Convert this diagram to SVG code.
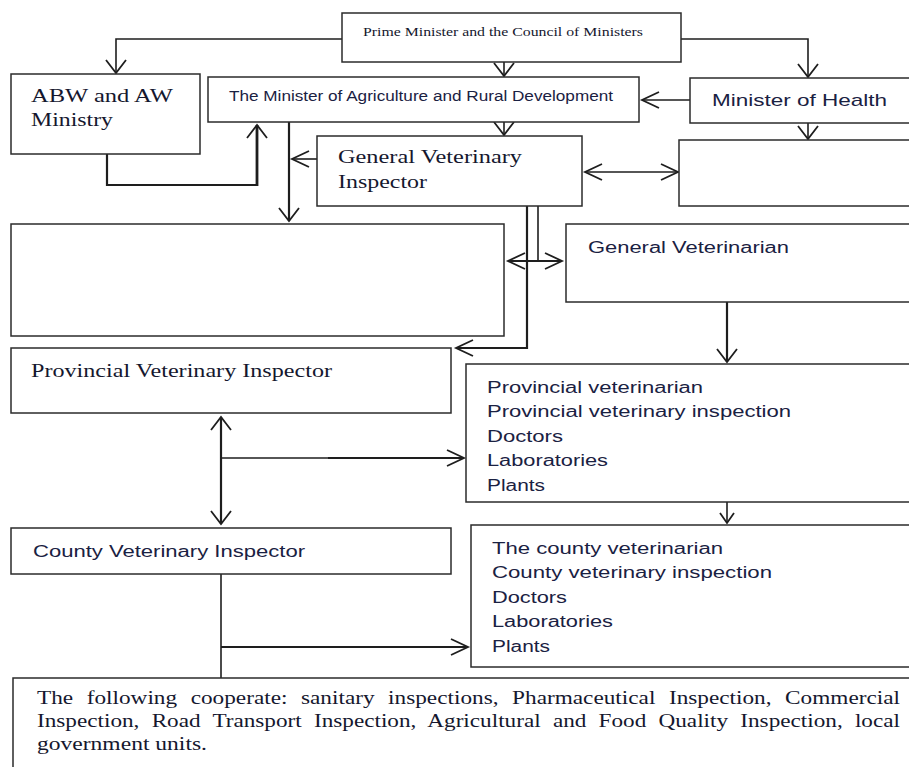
<svg xmlns="http://www.w3.org/2000/svg" width="909" height="767" viewBox="0 0 909 767">
<defs>
<style>
.box{fill:#fff;stroke:#2b2b2b;stroke-width:1.5}
.c{fill:none;stroke:#1e1e1e;stroke-width:1.6}
.t2{stroke-width:2.2}
.t3{stroke-width:2.8}
.serif{font-family:"Liberation Serif","Times New Roman",serif;fill:#15172e}
.sans{font-family:"Liberation Sans",Arial,sans-serif;fill:#1a2142}
</style>
<marker id="a" markerUnits="userSpaceOnUse" orient="auto-start-reverse" overflow="visible" markerWidth="1" markerHeight="1" refX="0" refY="0">
<path d="M-13,-10 L0,0 L-13,10" fill="none" stroke="#1e1e1e" stroke-width="1.8"/>
</marker>
<marker id="b" markerUnits="userSpaceOnUse" orient="auto-start-reverse" overflow="visible" markerWidth="1" markerHeight="1" refX="0" refY="0">
<path d="M-17,-8 L0,0 L-17,8" fill="none" stroke="#1e1e1e" stroke-width="1.8"/>
</marker>
<marker id="s" markerUnits="userSpaceOnUse" orient="auto-start-reverse" overflow="visible" markerWidth="1" markerHeight="1" refX="0" refY="0">
<path d="M-10,-7 L0,0 L-10,7" fill="none" stroke="#1e1e1e" stroke-width="1.8"/>
</marker>
</defs>
<rect width="909" height="767" fill="#fff"/>

<g id="connectors">
<polyline class="c" points="342,39 116,39 116,73" marker-end="url(#a)"/>
<polyline class="c" points="681,39 808,39 808,77" marker-end="url(#a)"/>
<line class="c" x1="504" y1="62" x2="504" y2="76" marker-end="url(#a)"/>
<line class="c" x1="690" y1="100" x2="642" y2="100" marker-end="url(#b)"/>
<line class="c" x1="504" y1="122" x2="504" y2="135" marker-end="url(#a)"/>
<line class="c" x1="808" y1="123" x2="808" y2="139" marker-end="url(#a)"/>
<polyline class="c t2" points="107,154 107,185 257,185"/>
<line class="c t3" x1="257" y1="186" x2="257" y2="125" marker-end="url(#a)"/>
<line class="c t2" x1="289" y1="122" x2="289" y2="221" marker-end="url(#a)"/>
<line class="c" x1="317" y1="159" x2="292" y2="159" marker-end="url(#b)"/>
<line class="c" x1="585" y1="172" x2="678" y2="172" marker-start="url(#b)" marker-end="url(#b)"/>
<polyline class="c t2" points="527,206 527,348 456,348" marker-end="url(#b)"/>
<line class="c" x1="538" y1="206" x2="538" y2="261"/>
<line class="c t2" x1="508" y1="261" x2="562" y2="261" marker-start="url(#b)" marker-end="url(#b)"/>
<line class="c t2" x1="727" y1="302" x2="727" y2="362" marker-end="url(#a)"/>
<line class="c t2" x1="221" y1="417" x2="221" y2="524" marker-start="url(#a)" marker-end="url(#a)"/>
<line class="c" x1="221" y1="458" x2="330" y2="458"/>
<line class="c t2" x1="328" y1="458" x2="464" y2="458" marker-end="url(#b)"/>
<line class="c" x1="727" y1="502" x2="727" y2="523" marker-end="url(#s)"/>
<line class="c" x1="221" y1="574" x2="221" y2="678"/>
<line class="c t2" x1="221" y1="647" x2="468" y2="647" marker-end="url(#b)"/>
</g>

<g id="pm">
<rect class="box" x="342" y="13" width="339" height="49"/>
<text class="serif" x="363" y="36" font-size="13.5" textLength="280" lengthAdjust="spacingAndGlyphs">Prime Minister and the Council of Ministers</text>
</g>
<g id="abw">
<rect class="box" x="11" y="74" width="189" height="80"/>
<text class="serif" x="31" y="102" font-size="18.5" textLength="142" lengthAdjust="spacingAndGlyphs">ABW and AW</text>
<text class="serif" x="31" y="126" font-size="18.5" textLength="82" lengthAdjust="spacingAndGlyphs">Ministry</text>
</g>
<g id="moa">
<rect class="box" x="208" y="77" width="431" height="45"/>
<text class="sans" x="229" y="101" font-size="14" textLength="384" lengthAdjust="spacingAndGlyphs">The Minister of Agriculture and Rural Development</text>
</g>
<g id="moh">
<rect class="box" x="690" y="78" width="230" height="45"/>
<text class="sans" x="712" y="106" font-size="17" textLength="175" lengthAdjust="spacingAndGlyphs">Minister of Health</text>
</g>
<g id="gvi">
<rect class="box" x="317" y="136" width="265" height="70"/>
<text class="serif" x="338" y="163" font-size="18.5" textLength="184" lengthAdjust="spacingAndGlyphs">General Veterinary</text>
<text class="serif" x="338" y="188" font-size="18.5" textLength="89" lengthAdjust="spacingAndGlyphs">Inspector</text>
</g>
<g id="right-empty">
<rect class="box" x="679" y="140" width="240" height="66"/>
</g>
<g id="left-empty">
<rect class="box" x="11" y="224" width="493" height="112"/>
</g>
<g id="gv">
<rect class="box" x="566" y="224" width="360" height="78"/>
<text class="sans" x="588" y="253" font-size="16" textLength="201" lengthAdjust="spacingAndGlyphs">General Veterinarian</text>
</g>
<g id="pvi">
<rect class="box" x="11" y="348" width="440" height="65"/>
<text class="serif" x="31" y="377" font-size="18.5" textLength="301" lengthAdjust="spacingAndGlyphs">Provincial Veterinary Inspector</text>
</g>
<g id="prov-list">
<rect class="box" x="466" y="364" width="460" height="138"/>
<text class="sans" font-size="16">
<tspan x="487" y="393" textLength="216" lengthAdjust="spacingAndGlyphs">Provincial veterinarian</tspan>
<tspan x="487" y="417" textLength="304" lengthAdjust="spacingAndGlyphs">Provincial veterinary inspection</tspan>
<tspan x="487" y="442" textLength="76" lengthAdjust="spacingAndGlyphs">Doctors</tspan>
<tspan x="487" y="466" textLength="121" lengthAdjust="spacingAndGlyphs">Laboratories</tspan>
<tspan x="487" y="491" textLength="58" lengthAdjust="spacingAndGlyphs">Plants</tspan>
</text>
</g>
<g id="cvi">
<rect class="box" x="11" y="528" width="440" height="46"/>
<text class="sans" x="33" y="557" font-size="16" textLength="272" lengthAdjust="spacingAndGlyphs">County Veterinary Inspector</text>
</g>
<g id="county-list">
<rect class="box" x="471" y="525" width="460" height="142"/>
<text class="sans" font-size="16">
<tspan x="492" y="554" textLength="231" lengthAdjust="spacingAndGlyphs">The county veterinarian</tspan>
<tspan x="492" y="578" textLength="280" lengthAdjust="spacingAndGlyphs">County veterinary inspection</tspan>
<tspan x="492" y="603" textLength="75" lengthAdjust="spacingAndGlyphs">Doctors</tspan>
<tspan x="492" y="627" textLength="121" lengthAdjust="spacingAndGlyphs">Laboratories</tspan>
<tspan x="492" y="652" textLength="58" lengthAdjust="spacingAndGlyphs">Plants</tspan>
</text>
</g>
<g id="cooperate">
<rect class="box" x="13" y="678" width="920" height="110"/>
<text class="serif" x="37" y="704" font-size="18" word-spacing="6" textLength="863" lengthAdjust="spacingAndGlyphs">The following cooperate: sanitary inspections, Pharmaceutical Inspection, Commercial</text>
<text class="serif" x="37" y="727" font-size="18" word-spacing="5" textLength="863" lengthAdjust="spacingAndGlyphs">Inspection, Road Transport Inspection, Agricultural and Food Quality Inspection, local</text>
<text class="serif" x="37" y="750" font-size="18" textLength="170" lengthAdjust="spacingAndGlyphs">government units.</text>
</g>
</svg>
